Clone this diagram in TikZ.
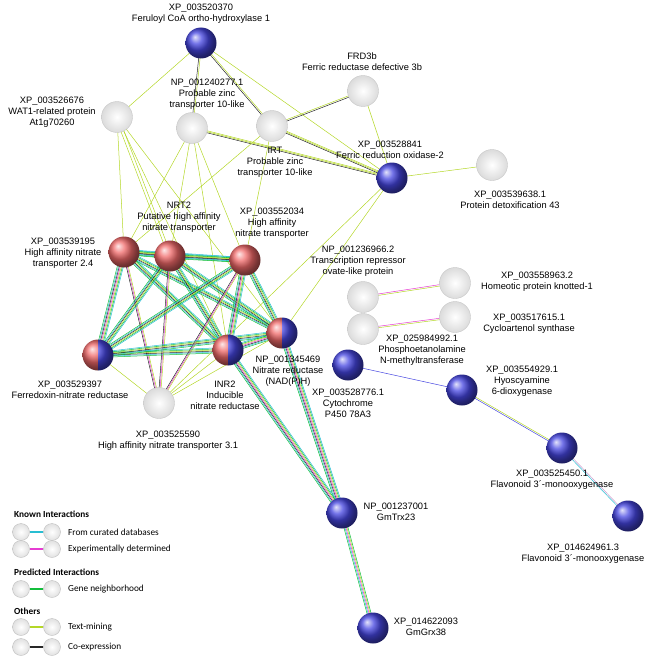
\documentclass[tikz,border=0pt]{standalone}
\usepackage{fontspec}
\setmainfont{Liberation Sans}
\newfontfamily\legfont{Carlito}
\usetikzlibrary{calc,backgrounds}
\definecolor{tm}{RGB}{180,215,40}
\definecolor{gn}{RGB}{20,190,60}
\definecolor{cu}{RGB}{40,190,210}
\definecolor{ex}{RGB}{230,60,210}
\definecolor{co}{RGB}{40,40,40}
\definecolor{bl}{RGB}{70,70,225}
\definecolor{rd}{RGB}{240,105,105}
\tikzset{
 prot/.style={circle,minimum size=31pt,inner sep=0pt},
 bb/.style={prot,ball color=bl},
 rb/.style={prot,ball color=rd},
 gb/.style={prot,inner color=white,outer color=black!14,draw=black!22,line width=0.4pt},
 hb/.style={prot},
 lab/.style={font=\fontsize{9.3}{11.2}\selectfont,align=center,inner sep=0pt},
 leg/.style={font=\legfont\fontsize{9.3}{11}\selectfont,anchor=west,inner sep=0pt},
 legh/.style={font=\legfont\bfseries\fontsize{9.3}{11}\selectfont,anchor=west,inner sep=0pt},
 lc/.style={circle,minimum size=17pt,inner sep=0pt,inner color=white,outer color=black!12,draw=black!25,line width=0.4pt}
}
\newcommand\E[3]{\foreach \col/\off in {#3}{\draw[\col,line width=0.5pt] ($(#1.center)!\off*1.0pt!90:(#2.center)$) -- ($(#2.center)!\off*1.0pt!-90:(#1.center)$);}}
\newcommand\BIG[2]{\E{#1}{#2}{gn/-2.5,cu/-1.5,co/-0.5,tm/0.5,gn/1.5,cu/2.5}}
\newcommand\BIGX[2]{\E{#1}{#2}{gn/-3,cu/-2,co/-1,ex/0,tm/1,gn/2,cu/3}}
\newcommand\halfball[1]{%
 \begin{scope}\clip ($(#1)+(-16,-16)$) rectangle ($(#1)+(0,16)$);
 \shade[ball color=rd] (#1) circle (15.5);\end{scope}
 \begin{scope}\clip ($(#1)+(0,-16)$) rectangle ($(#1)+(16,16)$);
 \shade[ball color=bl] (#1) circle (15.5);\end{scope}}
\begin{document}
\begin{tikzpicture}[x=1pt,y=-1pt]
\useasboundingbox (0,0) rectangle (651,661);
% nodes
\node[bb] (f1) at (201,43) {};
\node[gb] (wat) at (117,117) {};
\node[gb] (zn1) at (192,128) {};
\node[gb] (irt) at (272,126) {};
\node[gb] (frd) at (363,91) {};
\node[bb] (fro) at (392,178) {};
\node[gb] (det) at (492,165) {};
\node[rb] (h24) at (124,252) {};
\node[rb] (nrt) at (170,256) {};
\node[rb] (h52) at (245,260) {};
\node[hb] (fnr) at (98,355) {};
\node[hb] (inr) at (228,350) {};
\node[hb] (nr) at (282,333) {};
\node[gb] (h31) at (159,403) {};
\node[gb] (ova) at (363,297) {};
\node[gb] (kno) at (455,283) {};
\node[gb] (pho) at (363,329) {};
\node[gb] (cyc) at (455,317) {};
\node[bb] (cyt) at (348,365) {};
\node[bb] (hyo) at (462,390) {};
\node[bb] (fl1) at (562,448) {};
\node[bb] (fl2) at (628,516) {};
\node[bb] (trx) at (342,513) {};
\node[bb] (grx) at (373,628) {};
\halfball{fnr}\halfball{inr}\halfball{nr}
% edges
\begin{scope}[on background layer]
\E{f1}{wat}{tm/0}\E{f1}{zn1}{co/-0.7,tm/0.7}\E{f1}{irt}{co/-0.7,tm/0.7}\E{f1}{fro}{tm/0}
\E{wat}{h24}{tm/0}\E{wat}{nrt}{tm/-1.5,tm/1.5}\E{wat}{inr}{tm/0}\E{wat}{nr}{tm/0}
\E{zn1}{h24}{tm/0}\E{zn1}{nrt}{tm/0}\E{zn1}{inr}{tm/0}\E{zn1}{fro}{co/-1,tm/0,tm/1}
\E{zn1}{h52}{tm/0}
\E{irt}{frd}{co/-0.7,tm/0.7}\E{irt}{fro}{co/-1,tm/0,tm/1}\E{irt}{h52}{tm/0}\E{irt}{h24}{tm/0}
\E{frd}{fro}{tm/0}\E{fro}{det}{tm/0}\E{fro}{nr}{tm/0}\E{fro}{h31}{tm/0}
\BIG{h24}{nrt}\BIG{h24}{h52}\BIGX{h24}{fnr}\BIG{h24}{inr}\BIG{h24}{nr}\E{h24}{h31}{co/-1,ex/0,tm/1}
\BIG{nrt}{h52}\BIG{nrt}{fnr}\BIG{nrt}{inr}\BIG{nrt}{nr}\E{nrt}{h31}{co/-1,ex/0,tm/1}
\BIG{h52}{fnr}\BIGX{h52}{inr}\BIG{h52}{nr}\E{h52}{h31}{co/-1,ex/0,tm/1}
\BIG{fnr}{inr}\BIG{fnr}{nr}\E{fnr}{h31}{tm/0}
\BIGX{inr}{nr}\E{inr}{h31}{tm/0}\E{nr}{h31}{tm/0}
\BIGX{nr}{trx}\BIGX{inr}{trx}\E{trx}{grx}{gn/-2,cu/-1,ex/0,tm/1,gn/2}
\E{ova}{kno}{tm/-0.7,ex/0.7}\E{pho}{cyc}{tm/-0.7,ex/0.7}
\E{cyt}{hyo}{bl/0}\E{hyo}{fl1}{bl/-0.7,tm/0.7}\E{fl1}{fl2}{cu/-0.7,violet!40/0.7}
\end{scope}
% labels
\node[lab] at (201,14) {XP\_003520370\\Feruloyl CoA ortho-hydroxylase 1};
\node[lab,align=center] at (52,112) {XP\_003526676\\WAT1-related protein\\At1g70260};
\node[lab] at (207,94) {NP\_001240277.1\\Probable zinc\\transporter 10-like};
\node[lab] at (275,162) {IRT\\Probable zinc\\transporter 10-like};
\node[lab] at (362,62) {FRD3b\\Ferric reductase defective 3b};
\node[lab] at (390,150) {XP\_003528841\\Ferric reduction oxidase-2};
\node[lab] at (510,200) {XP\_003539638.1\\Protein detoxification 43};
\node[lab] at (179,217) {NRT2\\Putative high affinity\\nitrate transporter};
\node[lab] at (272,223) {XP\_003552034\\High affinity\\nitrate transporter};
\node[lab] at (63,253) {XP\_003539195\\High affinity nitrate\\transporter 2.4};
\node[lab] at (358,261) {NP\_001236966.2\\Transcription repressor\\ovate-like protein};
\node[lab] at (537,282) {XP\_003558963.2\\Homeotic protein knotted-1};
\node[lab] at (529,324) {XP\_003517615.1\\Cycloartenol synthase};
\node[lab] at (422,350) {XP\_025984992.1\\Phosphoetanolamine\\N-methyltransferase};
\node[lab] at (288,371) {NP\_001345469\\Nitrate reductase\\(NAD(P)H)};
\node[lab] at (70,390) {XP\_003529397\\Ferredoxin-nitrate reductase};
\node[lab] at (225,395) {INR2\\Inducible\\nitrate reductase};
\node[lab] at (348,403) {XP\_003528776.1\\Cytochrome\\P450 78A3};
\node[lab] at (522,381) {XP\_003554929.1\\Hyoscyamine\\6-dioxygenase};
\node[lab] at (168,441) {XP\_003525590\\High affinity nitrate transporter 3.1};
\node[lab] at (552,480) {XP\_003525450.1\\Flavonoid 3\textasciiacute-monooxygenase};
\node[lab] at (583,554) {XP\_014624961.3\\Flavonoid 3\textasciiacute-monooxygenase};
\node[lab] at (396,512) {NP\_001237001\\GmTrx23};
\node[lab] at (426,627) {XP\_014622093\\GmGrx38};
% legend
\node[legh] (k) at (14,514) {Known Interactions};
\node[legh] (p) at (14,572) {Predicted Interactions};
\node[legh] (o) at (14,611) {Others};
\foreach \y/\c/\t/\n in {532/cu/From curated databases/a,549/ex/Experimentally determined/b,589/gn/Gene neighborhood/c,627/tm/Text-mining/d,647/co/Co-expression/e}{
 \node[lc] (l\n) at (21,\y) {}; \node[lc] (r\n) at (52,\y) {};
 \draw[\c,line width=1.3pt] (l\n) -- (r\n);
 \node[leg] at (68,\y) {\t};}
\end{tikzpicture}
\end{document}
